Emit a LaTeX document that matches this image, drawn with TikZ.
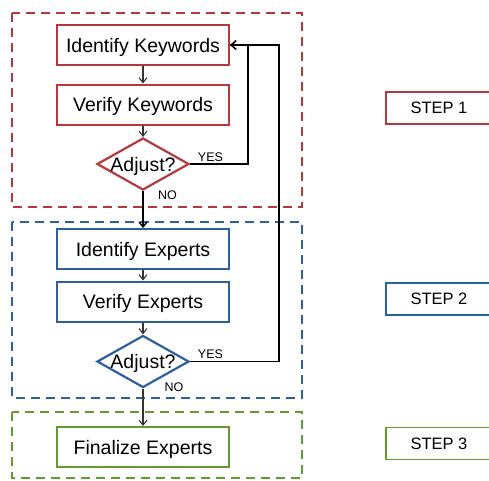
\documentclass[tikz,border=0pt]{standalone}
\usepackage{fontspec}
\setmainfont{Liberation Sans}
\usetikzlibrary{shapes.geometric,arrows.meta}
\definecolor{cred}{HTML}{B5393C}
\definecolor{cblue}{HTML}{2F5F9F}
\definecolor{cgreen}{HTML}{639B2F}
\begin{document}
\begin{tikzpicture}[x=1pt,y=-1pt,
  procbox/.style={draw=#1,line width=2pt,minimum width=172pt,minimum height=40pt,inner sep=0pt,text height=14pt,text depth=0pt,font=\fontsize{19.5}{22}\selectfont},
  decbox/.style={draw=#1,line width=2.2pt,diamond,aspect=1.77,minimum width=92pt,minimum height=52pt,inner sep=0pt,text height=14pt,text depth=0pt,font=\fontsize{19.5}{22}\selectfont},
  groupbox/.style={draw=#1,line width=2.4pt,dash pattern=on 9pt off 6pt},
  stepbox/.style={draw=#1,line width=1.8pt,minimum width=106pt,minimum height=32pt,inner sep=0pt,text height=11.5pt,text depth=0pt,font=\fontsize{16.5}{18}\selectfont},
  flow/.style={draw=black!80,line width=1.1pt,-{Straight Barb[length=5pt,width=8pt]}},
  back/.style={draw=black,line width=1.6pt},
  lbl/.style={font=\fontsize{12.5}{14}\selectfont,inner sep=0pt}]
\useasboundingbox (0,0) rectangle (489,480);
% group boxes
\draw[groupbox=cred] (12,13) rectangle (302,207);
\draw[groupbox=cblue] (12,222) rectangle (302,398);
\draw[groupbox=cgreen] (12,412) rectangle (302,478);
% nodes
\node[procbox=cred] (ik) at (143,45) {Identify Keywords};
\node[procbox=cred] (vk) at (143,104.5) {Verify Keywords};
\node[decbox=cred] (dk) at (143,164) {Adjust?};
\node[procbox=cblue] (ie) at (143,249) {Identify Experts};
\node[procbox=cblue] (ve) at (143,301.5) {Verify Experts};
\node[decbox=cblue] (de) at (143,361.5) {Adjust?};
\node[procbox=cgreen] (fe) at (143,447) {Finalize Experts};
% step labels
\node[stepbox=cred] (s1) at (439,108) {STEP 1};
\node[stepbox=cblue] (s2) at (439,299) {STEP 2};
\node[stepbox=cgreen] (s3) at (439,443.5) {STEP 3};
% flow arrows
\draw[flow] (ik) -- (vk);
\draw[flow] (vk) -- (dk);
\draw[flow,draw=black,line width=1.3pt] (dk) -- (ie);
\draw[flow] (ie) -- (ve);
\draw[flow] (ve) -- (de);
\draw[flow] (de) -- (fe);
% feedback
\coordinate (c1) at (248,164);
\coordinate (c2) at (279,361.5);
\coordinate (c3) at (279,45);
\draw[back] (de.east) -- (c2) -- (c3) -- (ik.east);
\draw[back,-{Straight Barb[length=5pt,width=9pt]}] (dk.east) -- (c1) |- (ik.east);
% labels
\node[lbl] (y1) at (210.5,157) {YES};
\node[lbl] (n1) at (167.5,195) {NO};
\node[lbl] (y2) at (210.5,354) {YES};
\node[lbl] (n2) at (174,387) {NO};
\end{tikzpicture}
\end{document}
